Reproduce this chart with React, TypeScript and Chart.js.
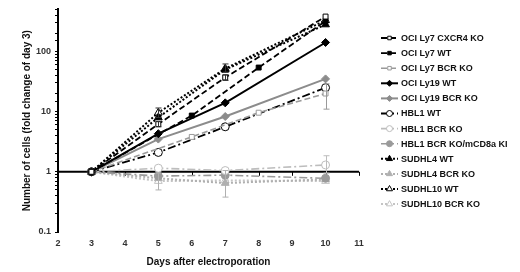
import React, { useEffect, useRef } from "react";
import { Chart, registerables } from "chart.js";
import { drawPoint } from "chart.js/helpers";

Chart.register(...registerables);

// ---- Data ----
const DAYS = [3, 5, 7, 10];
const DAYS_LY7 = [3, 6, 8, 10];
const X_TICKS = [2, 3, 4, 5, 6, 7, 8, 9, 10, 11];
const Y_TICK_LABELS = [0.1, 1, 10, 100];

const LABELS = [
  "OCI Ly7 CXCR4 KO",
  "OCI Ly7 WT",
  "OCI Ly7 BCR KO",
  "OCI Ly19 WT",
  "OCI Ly19 BCR KO",
  "HBL1 WT",
  "HBL1 BCR KO",
  "HBL1 BCR KO/mCD8a KI",
  "SUDHL4 WT",
  "SUDHL4 BCR KO",
  "SUDHL10 WT",
  "SUDHL10 BCR KO",
];

const OCI_LY7_CXCR4_KO = [1, 6.2, 37, 380];
const OCI_LY7_WT = [1, 8.6, 54, 320];
const OCI_LY7_BCR_KO = [1, 3.8, 9.6, 20];
const OCI_LY19_WT = [1, 4.3, 14, 141];
const OCI_LY19_BCR_KO = [1, 3.5, 8.3, 35];
const HBL1_WT = [1, 2.1, 5.6, 25];
const HBL1_BCR_KO = [1, 1.15, 1.05, 1.3];
const HBL1_BCR_KO_MCD8A_KI = [1, 0.85, 0.88, 0.78];
const SUDHL4_WT = [1, 8, 50, 280];
const SUDHL4_BCR_KO = [1, 0.78, 0.65, 0.75];
const SUDHL10_WT = [1, 9.6, 52, 330];
const SUDHL10_BCR_KO = [1, 0.7, 0.72, 0.7];

// error bars: [low, high] per point, null when none
const OCI_LY7_BCR_KO_ERR = [null, null, null, [11, 29]];
const SUDHL10_WT_ERR = [null, [8, 11.5], [45, 62], null];
const OCI_LY7_CXCR4_KO_ERR = [null, [5.6, 6.9], [33, 41], null];
const SUDHL4_BCR_KO_ERR = [null, [0.5, 0.95], [0.38, 1.05], null];
const HBL1_BCR_KO_ERR = [null, null, null, [0.95, 1.85]];

type Style = {
  color: string;
  dash: number[];
  width: number;
  point: string;
  filled: boolean;
  radius: number;
};

const DASH = [6, 3];
const DASHDOT = [8, 3, 2, 3];
const DOT = [2, 2];

const STYLES: Style[] = [
  { color: "#000000", dash: DASH, width: 1.8, point: "rect", filled: false, radius: 3.5 },
  { color: "#000000", dash: DASH, width: 1.8, point: "rect", filled: true, radius: 3.5 },
  { color: "#9a9a9a", dash: DASH, width: 1.6, point: "rect", filled: false, radius: 3.5 },
  { color: "#000000", dash: [], width: 2, point: "rectRot", filled: true, radius: 4 },
  { color: "#8c8c8c", dash: [], width: 2, point: "rectRot", filled: true, radius: 4 },
  { color: "#000000", dash: DASHDOT, width: 1.8, point: "circle", filled: false, radius: 4 },
  { color: "#bdbdbd", dash: DASHDOT, width: 1.6, point: "circle", filled: false, radius: 4 },
  { color: "#9a9a9a", dash: DASHDOT, width: 1.6, point: "circle", filled: true, radius: 4 },
  { color: "#000000", dash: DOT, width: 2, point: "triangle", filled: true, radius: 4.5 },
  { color: "#b0b0b0", dash: DOT, width: 2, point: "triangle", filled: true, radius: 4.5 },
  { color: "#000000", dash: DOT, width: 2, point: "triangle", filled: false, radius: 4.5 },
  { color: "#c4c4c4", dash: DOT, width: 2, point: "triangle", filled: false, radius: 4.5 },
];

const SERIES = [
  { days: DAYS, values: OCI_LY7_CXCR4_KO, err: OCI_LY7_CXCR4_KO_ERR },
  { days: DAYS_LY7, values: OCI_LY7_WT, err: null },
  { days: DAYS_LY7, values: OCI_LY7_BCR_KO, err: OCI_LY7_BCR_KO_ERR },
  { days: DAYS, values: OCI_LY19_WT, err: null },
  { days: DAYS, values: OCI_LY19_BCR_KO, err: null },
  { days: DAYS, values: HBL1_WT, err: null },
  { days: DAYS, values: HBL1_BCR_KO, err: HBL1_BCR_KO_ERR },
  { days: DAYS, values: HBL1_BCR_KO_MCD8A_KI, err: null },
  { days: DAYS, values: SUDHL4_WT, err: null },
  { days: DAYS, values: SUDHL4_BCR_KO, err: SUDHL4_BCR_KO_ERR },
  { days: DAYS, values: SUDHL10_WT, err: SUDHL10_WT_ERR },
  { days: DAYS, values: SUDHL10_BCR_KO, err: null },
];

const FONT = "'Liberation Sans', Arial, sans-serif";

const axisAtOnePlugin = {
  id: "axisAtOne",
  beforeDatasetsDraw(chart: any) {
    const { ctx, chartArea, scales } = chart;
    const y = scales.y.getPixelForValue(1);
    ctx.save();
    ctx.strokeStyle = "#000";
    ctx.lineWidth = 2;
    ctx.setLineDash([]);
    ctx.beginPath();
    ctx.moveTo(chartArea.left, y);
    ctx.lineTo(chartArea.right, y);
    ctx.stroke();
    ctx.lineWidth = 1;
    X_TICKS.forEach((d) => {
      const x = Math.round(scales.x.getPixelForValue(d)) + 0.5;
      ctx.beginPath();
      ctx.moveTo(x, y);
      ctx.lineTo(x, y + 4);
      ctx.stroke();
    });
    ctx.restore();
  },
};

const errorBarPlugin = {
  id: "errorBars",
  afterDatasetsDraw(chart: any) {
    const { ctx, scales } = chart;
    ctx.save();
    ctx.setLineDash([]);
    ctx.lineWidth = 1;
    SERIES.forEach((s, i) => {
      if (!s.err) return;
      ctx.strokeStyle = STYLES[i].color === "#000000" ? "#333" : STYLES[i].color;
      s.err.forEach((e: any, j: number) => {
        if (!e) return;
        const x = Math.round(scales.x.getPixelForValue(s.days[j])) + 0.5;
        const yl = scales.y.getPixelForValue(e[0]);
        const yh = scales.y.getPixelForValue(e[1]);
        ctx.beginPath();
        ctx.moveTo(x, yl);
        ctx.lineTo(x, yh);
        ctx.moveTo(x - 3, yl);
        ctx.lineTo(x + 3, yl);
        ctx.moveTo(x - 3, yh);
        ctx.lineTo(x + 3, yh);
        ctx.stroke();
      });
    });
    ctx.restore();
  },
};

const legendPlugin = {
  id: "customLegend",
  afterDraw(chart: any) {
    const { ctx } = chart;
    const x0 = 381;
    const x1 = 398;
    const top = 38;
    const step = 15.1;
    ctx.save();
    LABELS.forEach((label, i) => {
      const st = STYLES[i];
      const y = top + i * step;
      ctx.strokeStyle = st.color;
      ctx.lineWidth = st.width;
      ctx.setLineDash(st.dash);
      ctx.beginPath();
      ctx.moveTo(x0, y);
      ctx.lineTo(x1, y);
      ctx.stroke();
      ctx.setLineDash([]);
      ctx.lineWidth = 1;
      ctx.fillStyle = st.filled ? st.color : "#ffffff";
      ctx.strokeStyle = st.color;
      drawPoint(ctx, { pointStyle: st.point, radius: st.radius - 1, borderWidth: 1, rotation: 0 }, (x0 + x1) / 2, y);
      ctx.fillStyle = "#111";
      ctx.font = `bold 9px ${FONT}`;
      ctx.textAlign = "left";
      ctx.textBaseline = "middle";
      ctx.fillText(label, x1 + 3, y + 0.5);
    });
    ctx.restore();
  },
};

export default function App() {
  const ref = useRef<HTMLCanvasElement | null>(null);

  useEffect(() => {
    if (!ref.current) return;
    const datasets = SERIES.map((s, i) => {
      const st = STYLES[i];
      return {
        label: LABELS[i],
        data: s.days.map((d, j) => ({ x: d, y: s.values[j] })),
        borderColor: st.color,
        borderWidth: st.width,
        borderDash: st.dash,
        pointStyle: st.point,
        pointRadius: st.radius,
        pointBorderWidth: 1,
        pointBorderColor: st.color,
        pointBackgroundColor: st.filled ? st.color : "#ffffff",
        fill: false,
        tension: 0,
      };
    });

    const chart = new Chart(ref.current, {
      type: "line",
      data: { datasets },
      plugins: [axisAtOnePlugin, errorBarPlugin, legendPlugin],
      options: {
        animation: false,
        responsive: false,
        maintainAspectRatio: false,
        layout: { padding: { left: 0, right: 161, top: 9, bottom: 0 } },
        plugins: {
          legend: { display: false },
          tooltip: { enabled: false },
        },
        scales: {
          x: {
            type: "linear",
            min: 2,
            max: 11,
            afterFit: (scale: any) => {
              scale.height = 40;
            },
            afterBuildTicks: (scale: any) => {
              scale.ticks = X_TICKS.map((v) => ({ value: v }));
            },
            border: { display: false },
            grid: { display: false, drawTicks: false },
            ticks: {
              padding: 6,
              color: "#333",
              font: { family: FONT, size: 9, weight: "bold" },
              callback: (v: any) => String(v),
            },
            title: {
              display: true,
              text: "Days after electroporation",
              color: "#111",
              font: { family: FONT, size: 10, weight: "bold" },
              padding: { top: 0, bottom: 4 },
            },
          },
          y: {
            type: "logarithmic",
            min: 0.1,
            max: 500,
            afterFit: (scale: any) => {
              scale.width = 58;
            },
            border: { display: true, color: "#000", width: 2 },
            grid: {
              drawOnChartArea: false,
              drawTicks: true,
              tickLength: 3,
              color: "#000",
              tickColor: "#000",
              lineWidth: 1,
            },
            ticks: {
              autoSkip: false,
              padding: 4,
              color: "#333",
              font: { family: FONT, size: 9, weight: "bold" },
              callback: (v: any) => {
                const n = Number(v);
                const hit = Y_TICK_LABELS.find((t) => Math.abs(t - n) / t < 1e-6);
                return hit !== undefined ? String(hit) : "";
              },
            },
            title: {
              display: true,
              text: "Number of cells (fold change of day 3)",
              color: "#111",
              font: { family: FONT, size: 10, weight: "bold" },
              padding: { top: 21, bottom: 0 },
            },
          },
        },
      } as any,
    });
    return () => chart.destroy();
  }, []);

  return (
    <div style={{ position: "absolute", left: 0, top: 0, width: 520, height: 272, background: "#fff" }}>
      <canvas ref={ref} width={520} height={272} style={{ width: 520, height: 272, display: "block" }} />
    </div>
  );
}
